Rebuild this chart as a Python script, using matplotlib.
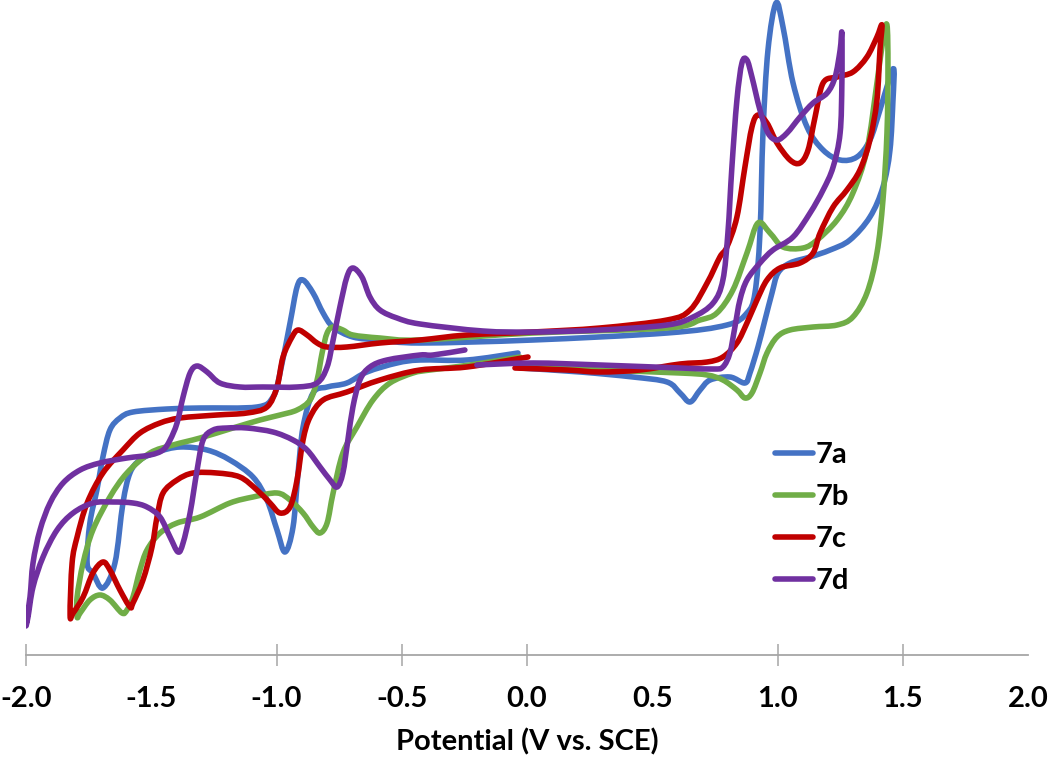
import numpy as np
import matplotlib
matplotlib.use("Agg")
import matplotlib.pyplot as plt
from matplotlib.path import Path
from matplotlib.patches import PathPatch
from matplotlib.lines import Line2D

# cyclic voltammograms, potential (V vs SCE), current (arb. units)
# each trace: start near 0 V -> negative vertex -> positive vertex -> back toward 0 V
cv_7a = [
    (-0.036, 30.2), (-0.240, 29.5), (-0.427, 29.5), (-0.519, 29.2), (-0.639, 28.3),
    (-0.719, 27.2), (-0.798, 26.8), (-0.854, 26.2), (-0.894, 22.8), (-0.914, 18.2),
    (-0.934, 12.8), (-0.966, 10.3), (-0.998, 12.5), (-1.038, 15.5), (-1.094, 17.8),
    (-1.186, 19.5), (-1.277, 20.5), (-1.385, 20.8), (-1.477, 20.3), (-1.545, 19.5),
    (-1.585, 18.2), (-1.613, 15.2), (-1.645, 9.2), (-1.693, 6.7), (-1.733, 8.2),
    (-1.756, 9.2),
    (-1.745, 13.2), (-1.717, 16.5), (-1.693, 19.8), (-1.665, 22.5), (-1.625, 23.7),
    (-1.573, 24.3), (-1.437, 24.6), (-1.305, 24.7), (-1.078, 24.8), (-1.014, 25.8),
    (-0.986, 28.2), (-0.946, 33.2), (-0.918, 36.8), (-0.894, 37.5), (-0.854, 36.2),
    (-0.814, 34.2), (-0.774, 32.8), (-0.695, 31.8), (-0.587, 31.5), (-0.427, 31.2),
    (0.024, 31.5), (0.559, 32.2), (0.798, 33.0), (0.878, 34.2), (0.910, 36.2),
    (0.930, 42.2), (0.942, 52.2), (0.962, 60.5), (0.994, 65.2), (1.022, 62.8),
    (1.062, 57.2), (1.118, 52.8), (1.182, 50.5), (1.250, 49.5), (1.317, 49.8),
    (1.369, 51.5), (1.409, 54.5), (1.449, 57.8), (1.465, 58.5),
    (1.461, 55.5), (1.449, 50.5), (1.421, 46.8), (1.369, 43.8), (1.289, 41.5),
    (1.210, 40.5), (1.130, 39.8), (1.050, 39.2), (1.002, 38.2), (0.978, 36.2),
    (0.950, 33.5), (0.922, 30.8), (0.890, 28.2), (0.870, 27.2), (0.810, 27.8),
    (0.731, 27.5), (0.691, 26.5), (0.651, 25.3), (0.611, 26.2), (0.559, 27.3),
    (0.423, 27.8), (0.212, 28.3), (-0.028, 28.7),
]

cv_7b = [
    (-0.028, 29.8), (-0.228, 29.0), (-0.387, 28.5), (-0.455, 28.2), (-0.547, 27.2),
    (-0.615, 25.5), (-0.679, 22.8), (-0.735, 20.2), (-0.774, 16.2), (-0.798, 13.2),
    (-0.826, 12.2), (-0.854, 12.8), (-0.894, 14.2), (-0.946, 15.5), (-0.998, 16.2),
    (-1.094, 15.8), (-1.186, 15.2), (-1.305, 13.8), (-1.397, 13.2), (-1.465, 12.2),
    (-1.517, 10.5), (-1.545, 8.5), (-1.573, 5.8), (-1.597, 4.5), (-1.617, 4.2),
    (-1.665, 5.5), (-1.705, 6.0), (-1.745, 5.5), (-1.784, 4.2), (-1.796, 3.8),
    (-1.796, 5.8), (-1.772, 9.2), (-1.733, 12.5), (-1.665, 15.8), (-1.597, 18.2),
    (-1.505, 20.2), (-1.413, 21.0), (-1.305, 21.7), (-1.174, 22.7), (-1.066, 23.5),
    (-0.986, 24.0), (-0.918, 24.5), (-0.866, 25.5), (-0.838, 27.5), (-0.818, 30.2),
    (-0.798, 32.2), (-0.774, 32.8), (-0.735, 32.5), (-0.695, 32.0), (-0.587, 31.7),
    (-0.427, 31.5), (0.024, 32.2), (0.559, 32.7), (0.691, 33.5), (0.758, 34.2),
    (0.822, 36.5), (0.878, 40.2), (0.922, 43.2), (0.970, 42.2), (1.022, 40.8),
    (1.102, 40.7), (1.158, 41.5), (1.238, 43.5), (1.301, 46.2), (1.357, 50.5),
    (1.397, 57.2), (1.421, 61.5), (1.437, 63.0),
    (1.441, 58.8), (1.437, 52.2), (1.421, 45.5), (1.397, 40.2), (1.357, 36.2),
    (1.301, 33.8), (1.238, 33.0), (1.142, 32.8), (1.050, 32.5), (0.998, 31.8),
    (0.958, 30.2), (0.930, 28.2), (0.898, 26.2), (0.870, 25.7), (0.838, 26.5),
    (0.782, 27.5), (0.719, 28.0), (0.611, 28.2), (0.291, 28.5), (-0.028, 28.8),
]

cv_7c = [
    (0.004, 29.8), (-0.240, 28.8), (-0.427, 28.5), (-0.587, 27.5), (-0.719, 26.3),
    (-0.814, 25.5), (-0.866, 23.8), (-0.894, 21.5), (-0.918, 17.5), (-0.946, 14.8),
    (-0.986, 14.2), (-1.026, 15.2), (-1.078, 16.5), (-1.146, 17.8), (-1.238, 18.2),
    (-1.333, 18.2), (-1.397, 17.5), (-1.453, 16.2), (-1.477, 13.8), (-1.497, 10.8),
    (-1.533, 7.5), (-1.573, 5.2), (-1.585, 4.8), (-1.625, 6.5), (-1.665, 8.5),
    (-1.693, 9.3), (-1.733, 8.2), (-1.772, 5.8), (-1.812, 4.2), (-1.824, 4.0),
    (-1.816, 9.2), (-1.796, 11.8), (-1.756, 15.2), (-1.693, 18.2), (-1.613, 20.5),
    (-1.545, 22.2), (-1.465, 23.2), (-1.385, 23.7), (-1.238, 24.0), (-1.118, 24.2),
    (-1.038, 24.8), (-0.998, 26.8), (-0.974, 29.8), (-0.938, 31.8), (-0.914, 32.5),
    (-0.878, 32.0), (-0.838, 31.2), (-0.798, 30.8), (-0.719, 30.8), (-0.587, 31.2),
    (-0.427, 31.5), (-0.240, 32.0), (0.024, 32.3), (0.291, 32.7), (0.559, 33.5),
    (0.651, 34.5), (0.719, 37.2), (0.770, 39.8), (0.798, 40.8), (0.838, 43.8),
    (0.870, 48.8), (0.898, 52.8), (0.922, 54.0), (0.958, 53.2), (0.998, 51.2),
    (1.050, 49.5), (1.090, 49.2), (1.122, 50.5), (1.150, 53.8), (1.182, 57.2),
    (1.238, 57.8), (1.301, 58.3), (1.357, 59.8), (1.397, 61.8), (1.417, 63.0),
    (1.409, 60.5), (1.397, 55.5), (1.369, 51.5), (1.329, 48.5), (1.277, 46.5),
    (1.222, 44.8), (1.170, 42.2), (1.142, 40.2), (1.090, 39.2), (1.010, 38.7),
    (0.958, 37.5), (0.918, 35.5), (0.878, 33.2), (0.838, 31.2), (0.782, 29.8),
    (0.719, 29.3), (0.611, 29.1), (0.451, 28.5), (0.291, 28.3), (0.160, 28.5),
    (-0.048, 28.7),
]

cv_7d = [
    (-0.248, 30.5), (-0.375, 30.0), (-0.427, 30.0), (-0.559, 29.5), (-0.627, 28.8),
    (-0.667, 27.5), (-0.695, 24.8), (-0.715, 21.5), (-0.735, 18.2), (-0.758, 16.8),
    (-0.786, 17.5), (-0.826, 18.8), (-0.878, 20.5), (-0.934, 21.5), (-1.014, 22.3),
    (-1.118, 22.7), (-1.198, 22.7), (-1.253, 22.5), (-1.293, 21.5), (-1.317, 18.5),
    (-1.345, 14.2), (-1.373, 11.2), (-1.393, 10.3), (-1.425, 11.8), (-1.465, 13.8),
    (-1.517, 14.8), (-1.573, 15.2), (-1.653, 15.3), (-1.733, 15.2), (-1.812, 14.2),
    (-1.876, 12.5), (-1.932, 9.8), (-1.972, 6.8), (-1.992, 3.8), (-2.000, 3.0),
    (-1.984, 5.8), (-1.972, 9.2), (-1.944, 12.5), (-1.904, 15.2), (-1.852, 17.2),
    (-1.784, 18.5), (-1.705, 19.2), (-1.597, 19.7), (-1.505, 20.0), (-1.453, 20.5),
    (-1.425, 21.5), (-1.397, 23.2), (-1.373, 25.8), (-1.345, 28.2), (-1.317, 28.9),
    (-1.277, 28.3), (-1.226, 27.2), (-1.146, 26.8), (-1.054, 26.8), (-0.918, 26.8),
    (-0.838, 27.2), (-0.798, 28.8), (-0.774, 31.5), (-0.747, 34.8), (-0.719, 37.8),
    (-0.695, 38.7), (-0.659, 37.8), (-0.627, 35.8), (-0.587, 34.5), (-0.519, 33.7),
    (-0.427, 33.1), (-0.176, 32.4), (0.024, 32.3), (0.291, 32.5),
    (0.559, 33.0), (0.663, 33.8), (0.743, 35.2), (0.782, 37.5), (0.802, 42.2),
    (0.818, 48.8), (0.838, 55.5), (0.858, 59.2), (0.878, 59.5), (0.898, 57.8),
    (0.930, 54.5), (0.962, 52.2), (0.998, 51.5), (1.038, 52.2), (1.090, 53.8),
    (1.142, 55.2), (1.198, 56.2), (1.230, 57.8), (1.250, 60.5), (1.257, 62.2),
    (1.257, 57.2), (1.250, 52.2), (1.222, 48.8), (1.182, 46.5), (1.130, 44.2),
    (1.062, 41.8), (0.982, 40.5), (0.930, 39.2), (0.878, 37.5), (0.850, 35.5),
    (0.830, 32.8), (0.810, 30.2), (0.782, 28.8), (0.743, 28.6), (0.611, 28.7),
    (0.291, 29.0), (0.024, 29.2), (-0.200, 29.0),
]

labels = ["7a", "7b", "7c", "7d"]
colors = ["#4472C4", "#70AD47", "#C00000", "#7030A0"]
x_ticks = [-2.0, -1.5, -1.0, -0.5, 0.0, 0.5, 1.0, 1.5, 2.0]
tick_marks = [-2.0, -1.0, -0.5, 0.0, 1.0, 1.5]   # only these carry a tick mark


def smooth_path(pts, t=1 / 6):
    # Excel-style "smoothed line": cubic bezier segments through every point
    p = np.asarray(pts, float)
    p = np.vstack([p[0], p, p[-1]])
    verts = [p[1]]
    codes = [Path.MOVETO]
    for k in range(1, len(p) - 2):
        c1 = p[k] + (p[k + 1] - p[k - 1]) * t
        c2 = p[k + 1] - (p[k + 2] - p[k]) * t
        verts += [c1, c2, p[k + 1]]
        codes += [Path.CURVE4] * 3
    return Path(verts, codes)


plt.rcParams['font.family'] = ['Lato', 'DejaVu Sans']
plt.rcParams['font.weight'] = 'bold'

fig = plt.figure(figsize=(10.5, 7.58), dpi=100)
ax = fig.add_axes([26 / 1050, 1 - 655 / 758, 1002 / 1050, 655 / 758])

handles = []
for data, lab, col in zip([cv_7a, cv_7b, cv_7c, cv_7d], labels, colors):
    patch = PathPatch(smooth_path(data), facecolor='none', edgecolor=col,
                      lw=4.0, joinstyle='round', capstyle='round')
    ax.add_patch(patch)
    handles.append(Line2D([], [], color=col, lw=4.0, solid_capstyle='round', label=lab))

ax.set_xlim(-2.0, 2.0)
ax.set_ylim(0, 65.5)
ax.xaxis.remove_overlapping_locs = False
ax.set_xticks(x_ticks)
ax.set_xticklabels([f"{t:.1f}" for t in x_ticks], fontsize=21, fontweight='bold')
ax.set_xticks(tick_marks, minor=True)
ax.set_yticks([])
for s in ['left', 'right', 'top']:
    ax.spines[s].set_visible(False)
ax.spines['bottom'].set_color('#a6a6a6')
ax.spines['bottom'].set_linewidth(1.3)
ax.tick_params(axis='x', which='major', length=8, width=0, pad=14)
ax.tick_params(axis='x', which='minor', direction='inout', length=16, width=1.1,
               color='#a6a6a6')
ax.set_xlabel("Potential (V vs. SCE)", fontsize=21, fontweight='bold', labelpad=12)

leg = ax.legend(handles=handles, loc='upper left',
                bbox_to_anchor=(775 / 1050, 1 - 442 / 758),
                bbox_transform=fig.transFigure, frameon=False, fontsize=21,
                handlelength=1.3, handletextpad=0.1, labelspacing=0.55,
                borderpad=0, borderaxespad=0)
for t in leg.get_texts():
    t.set_fontweight('bold')

fig.savefig("out.png", dpi=100)
